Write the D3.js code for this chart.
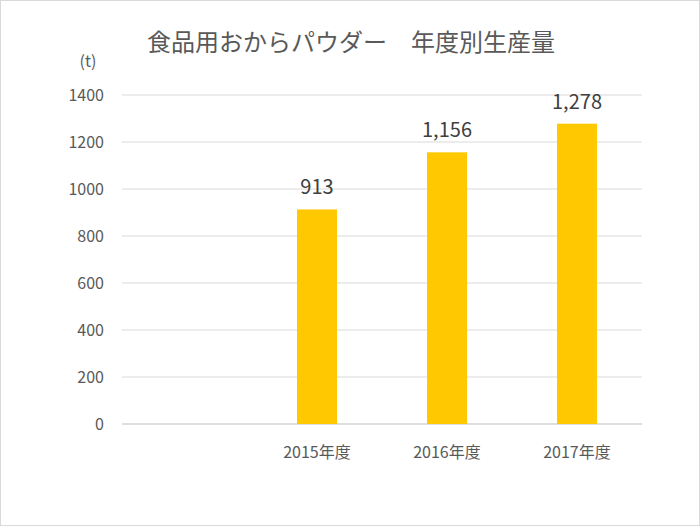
<!DOCTYPE html>
<html><head><meta charset="utf-8">
<script src="https://cdn.jsdelivr.net/npm/d3@7"></script>
<style>body{margin:0;background:#fff}</style></head>
<body><svg id="c" width="700" height="526"></svg>
<script>
const categories = ["", "2015年度", "2016年度", "2017年度"];
const values = [null, 913, 1156, 1278];
const labels = ["", "913", "1,156", "1,278"];
const yTicks = [0, 200, 400, 600, 800, 1000, 1200, 1400];

const svg = d3.select("#c");
const font = "'Noto Sans CJK JP', sans-serif";
svg.append("rect").attr("x",0.5).attr("y",0.5).attr("width",699).attr("height",525)
  .attr("fill","#fff").attr("stroke","#d9d9d9");
const x = d3.scaleBand().domain(categories).range([122,642]);
const y = d3.scaleLinear().domain([0,1400]).range([424,95]);

svg.append("g").selectAll("line").data(yTicks).join("line")
  .attr("x1",122).attr("x2",642).attr("y1",d=>y(d)).attr("y2",d=>y(d))
  .attr("stroke",d=>d===0?"#bfbfbf":"#d9d9d9");
svg.append("g").selectAll("text").data(yTicks).join("text")
  .attr("x",104).attr("y",d=>y(d)+6).attr("text-anchor","end")
  .attr("font-family",font).attr("font-size",16).attr("fill","#595959").text(d=>d);
svg.append("g").selectAll("text").data(categories).join("text")
  .attr("x",d=>x(d)+x.bandwidth()/2).attr("y",458).attr("text-anchor","middle")
  .attr("font-family",font).attr("font-size",16).attr("fill","#595959").text(d=>d);

const data = categories.map((c,i)=>({c,v:values[i],l:labels[i]})).filter(d=>d.v!=null);
const bw = 40;
svg.append("g").selectAll("rect").data(data).join("rect")
  .attr("x",d=>x(d.c)+x.bandwidth()/2-bw/2).attr("width",bw)
  .attr("y",d=>y(d.v)).attr("height",d=>y(0)-y(d.v)).attr("fill","#ffc800");
svg.append("g").selectAll("text").data(data).join("text")
  .attr("x",d=>x(d.c)+x.bandwidth()/2).attr("y",d=>y(d.v)-15).attr("text-anchor","middle")
  .attr("font-family",font).attr("font-size",20).attr("fill","#404040").text(d=>d.l);

svg.append("text").attr("x",351).attr("y",51).attr("text-anchor","middle")
  .attr("font-family",font).attr("font-size",24).attr("fill","#595959")
  .attr("xml:space","preserve").text("食品用おからパウダー　年度別生産量");
svg.append("text").attr("x",88).attr("y",67).attr("text-anchor","middle")
  .attr("font-family",font).attr("font-size",16).attr("fill","#595959").text("(t)");
</script></body></html>
